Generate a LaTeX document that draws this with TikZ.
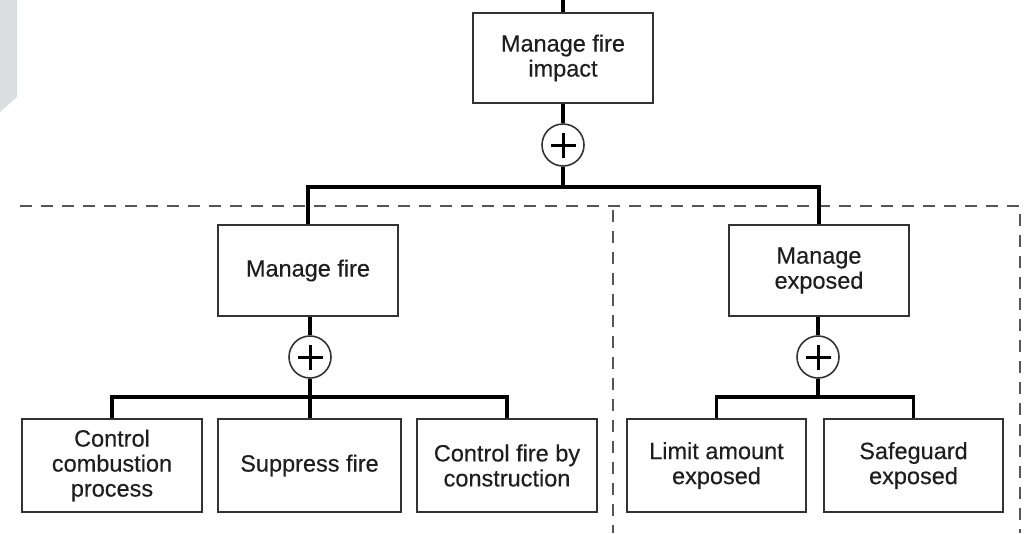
\documentclass[tikz,border=0pt]{standalone}
\usepackage{fontspec}
\setmainfont{Liberation Sans}
\newfontfamily\lblfont{Liberation Sans}[FakeBold=0.35]
\definecolor{boxc}{HTML}{333333}
\definecolor{txt}{HTML}{1E1E1E}
\definecolor{dashc}{HTML}{555555}
\definecolor{shadecol}{HTML}{DCDDDF}
\begin{document}
\begin{tikzpicture}[x=1pt,y=-1pt,
  box/.style={draw=boxc, line width=2.1pt, minimum width=180pt, minimum height=92pt,
    align=center, inner sep=0pt, font=\lblfont\fontsize{23.5}{25}\selectfont, text=txt},
  orc/.style={circle, draw=boxc, line width=1.6pt, minimum size=42pt, inner sep=0pt,
    path picture={\draw[line width=3pt,black]
      ([xshift=-12.5pt]path picture bounding box.center) -- ([xshift=12.5pt]path picture bounding box.center)
      ([yshift=-12.5pt]path picture bounding box.center) -- ([yshift=12.5pt]path picture bounding box.center);}},
  conn/.style={line width=3.3pt, black},
  sep/.style={draw=dashc, line width=1.6pt, dash pattern=on 12pt off 9pt}]
\useasboundingbox (0,0) rectangle (1025,533);
\fill[shadecol] (0,0) -- (17,0) -- (17,97) -- (0,112) -- cycle;
% separators
\draw[sep] (20,206) -- (1020,206) -- (1020,533);
\draw[sep] (613,210) -- (613,533);
% nodes
\coordinate (in) at (563,0);
\node[box, minimum height=90pt] (top) at (563,58) {Manage fire\\impact};
\node[orc] (c1) at (563,145) {};
\coordinate (bar1) at (563,187);
\node[box, minimum height=91pt] (mf) at (308,270.5) {Manage fire};
\node[box, minimum height=91pt] (me) at (819,270.5) {Manage\\exposed};
\node[orc] (c2) at (310,357) {};
\node[orc] (c3) at (818,357) {};
\coordinate (bar2) at (310,397);
\coordinate (bar3) at (818,397);
\node[box, minimum height=93pt] (b1) at (112,465.5) {Control\\combustion\\process};
\node[box, minimum height=93pt, minimum width=183pt] (b2) at (309.5,465.5) {Suppress fire};
\node[box, minimum height=93pt] (b3) at (507,465.5) {Control fire by\\construction};
\node[box, minimum height=93pt, minimum width=179pt] (b4) at (716.5,465.5) {Limit amount\\exposed};
\node[box, minimum height=93pt, minimum width=179pt] (b5) at (913.5,465.5) {Safeguard\\exposed};
% connectors
\draw[conn] (in) -- (top.north);
\draw[conn] (top.south) -- (c1.north);
\draw[conn] (c1.south) -- (bar1);
\draw[conn] (mf.north) -- (mf.north |- bar1) -- (me.north |- bar1) -- (me.north);
\draw[conn] (mf.south -| c2) -- (c2.north);
\draw[conn] (me.south -| c3) -- (c3.north);
\draw[conn] (c2.south) -- (bar2);
\draw[conn] (c3.south) -- (bar3);
\draw[conn] (b1.north) -- (b1.north |- bar2) -- (b3.north |- bar2) -- (b3.north);
\draw[conn] (bar2) -- (bar2 |- b2.north);
\draw[conn] (b4.north) -- (b4.north |- bar3) -- (b5.north |- bar3) -- (b5.north);
\end{tikzpicture}
\end{document}
